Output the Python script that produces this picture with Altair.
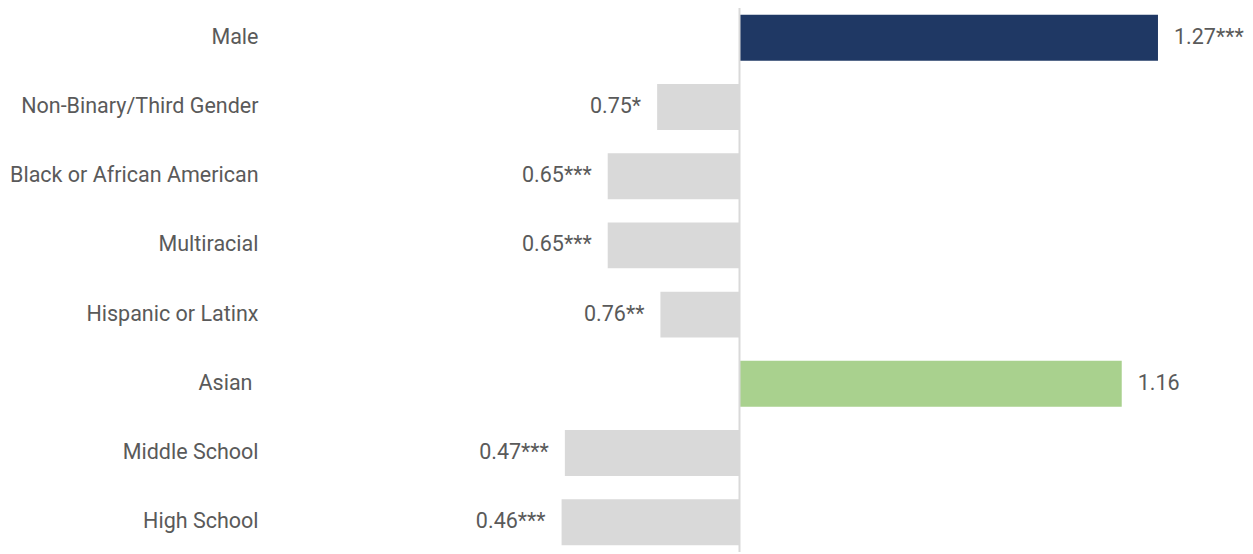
import altair as alt
import pandas as pd

# Categories, top to bottom
categories = [
    "Male",
    "Non-Binary/Third Gender",
    "Black or African American",
    "Multiracial",
    "Hispanic or Latinx",
    "Asian",
    "Middle School",
    "High School",
]
# Signed bar lengths as drawn in the picture (right of the baseline > 0, left < 0)
bar_length = [1.27, -0.25, -0.40, -0.40, -0.24, 1.16, -0.53, -0.54]
# Value labels printed next to the bars
value_labels = ["1.27***", "0.75*", "0.65***", "0.65***", "0.76**", "1.16", "0.47***", "0.46***"]
# Bar colours
bar_colors = ["#1f3864", "#d9d9d9", "#d9d9d9", "#d9d9d9", "#d9d9d9", "#a9d18e", "#d9d9d9", "#d9d9d9"]

df = pd.DataFrame({
    "category": categories,
    "length": bar_length,
    "label": value_labels,
    "color": bar_colors,
})

FONT = "Roboto"
FS = 21.5
TEXT_COLOR = "#5a5a5a"

x_scale = alt.Scale(domain=[-1.4249, 1.5341], nice=False, zero=False)
y_enc = alt.Y(
    "category:N",
    sort=categories,
    scale=alt.Scale(paddingInner=0.336, paddingOuter=0.0965),
    axis=alt.Axis(
        title=None, ticks=False, tickSize=0, domain=False, grid=False,
        labelPadding={"condition": {"test": "datum.value === 'Asian'", "value": 18}, "value": 12},
        labelFont=FONT, labelFontSize=FS, labelColor=TEXT_COLOR,
        labelLimit=400,
    ),
)

base = alt.Chart(df)

bars = base.mark_bar().encode(
    x=alt.X("length:Q", scale=x_scale, axis=None),
    x2=alt.datum(0),
    y=y_enc,
    color=alt.Color("color:N", scale=None, legend=None),
)

labels_right = base.transform_filter("datum.length > 0").mark_text(
    align="left", baseline="middle", dx=16, font=FONT, fontSize=FS, color=TEXT_COLOR
).encode(
    x=alt.X("length:Q", scale=x_scale, axis=None),
    y=alt.Y("category:N", sort=categories),
    text="label:N",
)

labels_left = base.transform_filter("datum.length < 0").mark_text(
    align="right", baseline="middle", dx=-16, font=FONT, fontSize=FS, color=TEXT_COLOR
).encode(
    x=alt.X("length:Q", scale=x_scale, axis=None),
    y=alt.Y("category:N", sort=categories),
    text="label:N",
)

baseline = alt.Chart(pd.DataFrame({"v": [0]})).mark_rule(
    color="#d9d9d9", strokeWidth=2
).encode(
    x=alt.X("v:Q", scale=x_scale, axis=None),
    y=alt.value(-5),
    y2=alt.value(546),
)

chart = alt.layer(bars, baseline, labels_right, labels_left).properties(
    width=975,
    height=544,
    autosize=alt.AutoSizeParams(type="none"),
    padding={"left": 262, "top": 0, "right": 0, "bottom": 0},
).configure(
    background="white",
    view=alt.ViewConfig(stroke=None, strokeWidth=0),
)

chart.save("out.html", embed_options={"renderer": "svg", "actions": False})
